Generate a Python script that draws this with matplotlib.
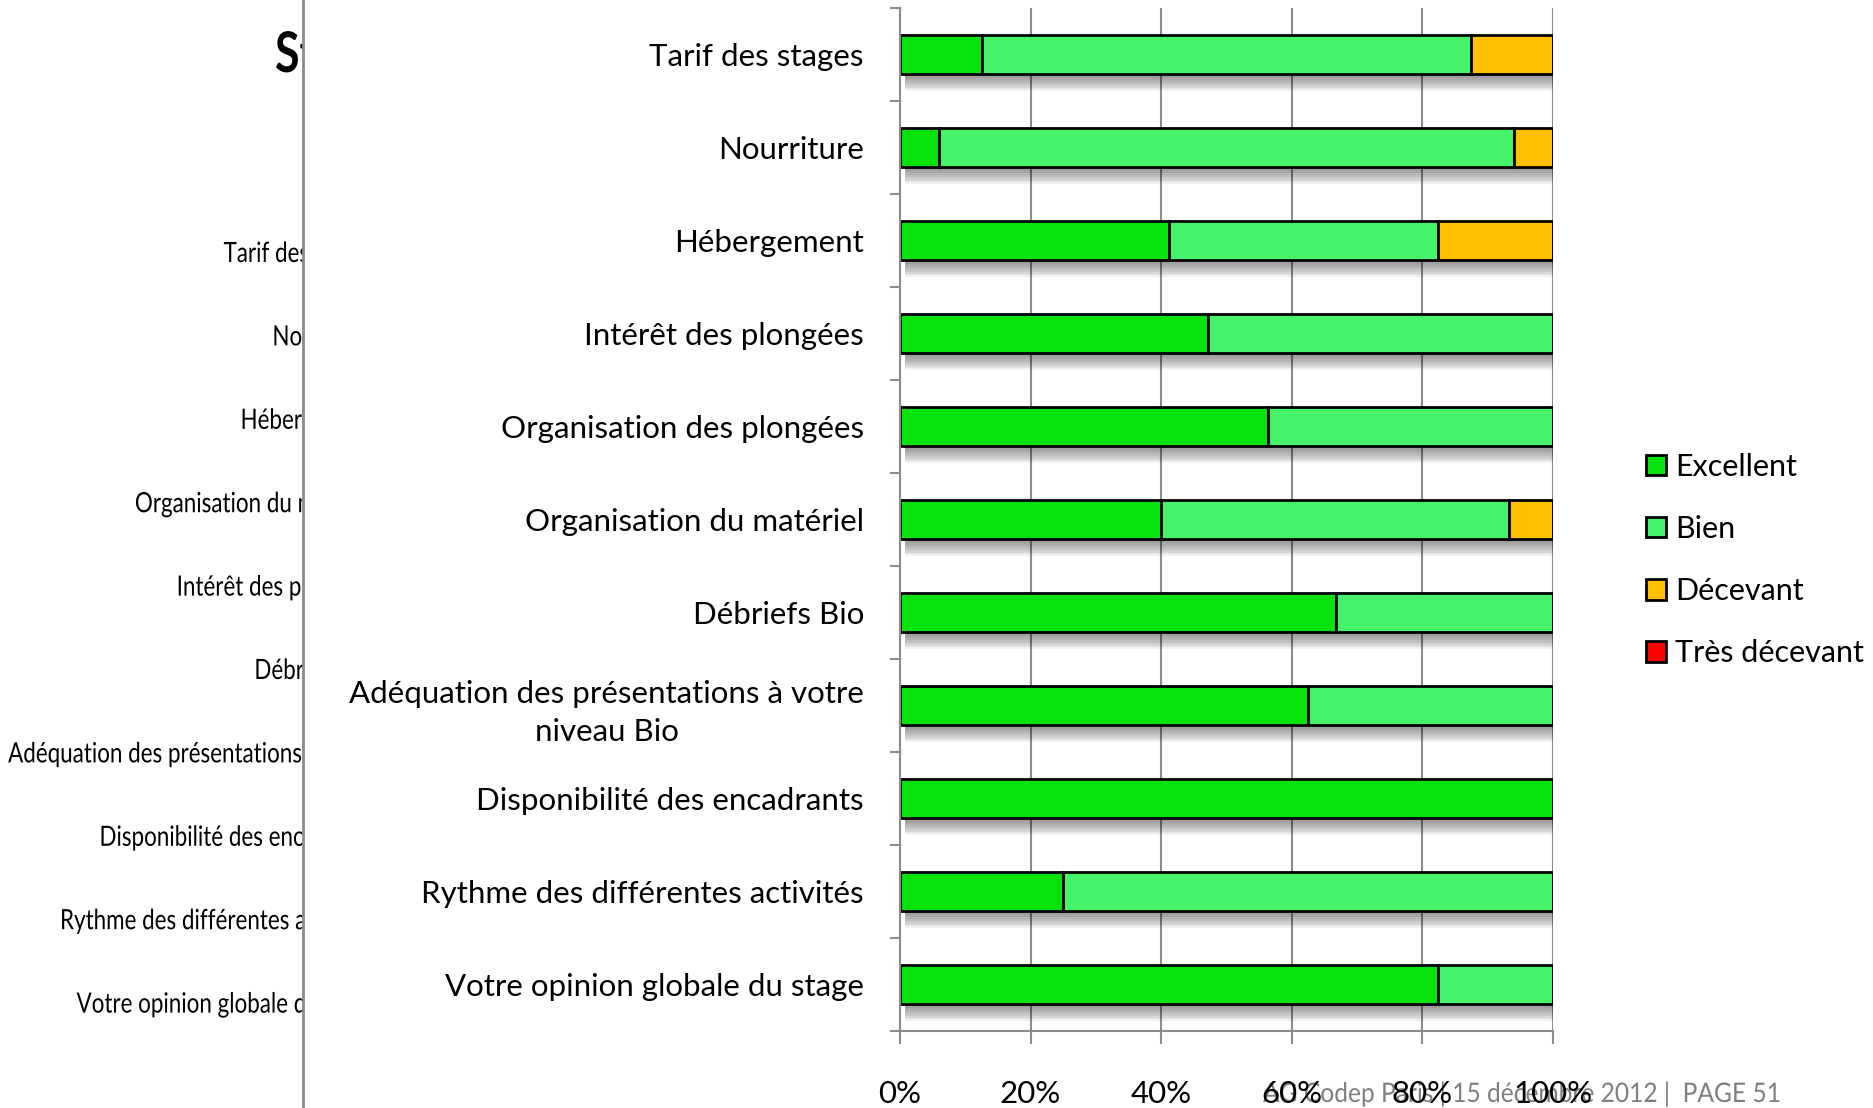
import numpy as np
import matplotlib
matplotlib.use("Agg")
import matplotlib.pyplot as plt
from matplotlib.patches import Rectangle, PathPatch
from matplotlib.lines import Line2D
from matplotlib.textpath import TextPath
from matplotlib.font_manager import FontProperties
from matplotlib.transforms import Affine2D

plt.rcParams['font.family'] = ['Lato', 'DejaVu Sans']

# main chart data (percent of answers)
categories = ["Tarif des stages", "Nourriture", "Hébergement", "Intérêt des plongées",
              "Organisation des plongées", "Organisation du matériel", "Débriefs Bio",
              "Adéquation des présentations à votre\nniveau Bio",
              "Disponibilité des encadrants", "Rythme des différentes activités",
              "Votre opinion globale du stage"]
excellent = [12.5, 5.9, 41.2, 47.1, 56.3, 40.0, 66.7, 62.5, 100.0, 25.0, 82.4]
bien = [75.0, 88.2, 41.2, 52.9, 43.7, 53.3, 33.3, 37.5, 0.0, 75.0, 17.6]
decevant = [12.5, 5.9, 17.6, 0.0, 0.0, 6.7, 0.0, 0.0, 0.0, 0.0, 0.0]
tres_decevant = [0.0] * 11
series_names = ["Excellent", "Bien", "Décevant", "Très décevant"]
series_colors = ["#05E30B", "#45F26A", "#FFC000", "#FF0000"]
xticks = [0, 20, 40, 60, 80, 100]

# labels of the slide behind, cut off by the chart
back_title = "Stages"
back_labels = ["Tarif des stages", "Nourriture", "Hébergement", "Organisation du matériel",
               "Intérêt des plongées", "Débriefs Bio", "Adéquation des présentations à votre",
               "Disponibilité des encadrants", "Rythme des différentes activités",
               "Votre opinion globale du stage"]
footer = "AG Codep Paris | 15 décembre 2012 |  PAGE 51"

W, H = 1874, 1108
fig = plt.figure(figsize=(W / 100, H / 100), dpi=100)

# background layer in pixel units (y up)
bg = fig.add_axes([0, 0, 1, 1])
bg.set_xlim(0, W)
bg.set_ylim(0, H)
bg.axis('off')
bg.set_zorder(0)


def squeezed(ax, x, y_top, s, size, sx, ha='left', weight='normal', color='black'):
    # narrow text drawn as a path, y_top = baseline measured from the top
    tp = TextPath((0, 0), s, size=size, prop=FontProperties(family='Lato', weight=weight))
    w = tp.get_extents().x1 * sx
    x0 = x - w if ha == 'right' else x
    tr = Affine2D().scale(sx, 1).translate(x0, H - y_top) + ax.transData
    ax.add_patch(PathPatch(tp, transform=tr, facecolor=color, edgecolor='none'))


squeezed(bg, 275, 72, back_title, 56, 0.8, weight='bold')
for i, lab in enumerate(back_labels):
    squeezed(bg, 376, 262 + i * 83.4, lab, 28, 0.8, ha='right')

# white chart area on top of it
fig.patches.append(Rectangle((303 / W, 0), 1 - 303 / W, 1, transform=fig.transFigure,
                             facecolor='white', edgecolor='none', zorder=2))
fig.lines.append(Line2D([303 / W, 303 / W], [0, 1], transform=fig.transFigure,
                        color='#8C8C8C', lw=2, zorder=2.5))

# footer of the slide, under the tick labels like in the source
fg = fig.add_axes([0, 0, 1, 1])
fg.set_xlim(0, W)
fg.set_ylim(0, H)
fg.axis('off')
fg.set_zorder(2.8)
fg.patch.set_alpha(0)
squeezed(fg, 1263, 1102, footer, 27, 0.91, color='#7F7F7F')

ax = fig.add_axes([900 / W, 1 - 1031 / H, (1553 - 900) / W, (1031 - 8) / H])
ax.set_zorder(3)
ax.patch.set_alpha(0)

y = np.arange(len(categories))
h = 0.41
totals = np.array(excellent) + np.array(bien) + np.array(decevant) + np.array(tres_decevant)

# soft shadow under the bars
for k in range(8):
    ax.barh(y + 0.05 + k * 0.02, totals, left=0.8, height=h, color='black', alpha=0.055,
            edgecolor='none', zorder=1)

left = np.zeros(len(categories))
handles = []
for vals, name, col in zip([excellent, bien, decevant, tres_decevant], series_names, series_colors):
    b = ax.barh(y, vals, left=left, height=h, color=col, edgecolor='black', linewidth=2,
                label=name, zorder=2)
    handles.append(b)
    left = left + np.array(vals)

ax.set_xlim(0, 100)
ax.set_ylim(len(categories) - 0.5, -0.5)

ax.set_xticks(xticks)
ax.set_xticklabels([f"{t}%" for t in xticks])
ax.set_yticks(y)
ax.set_yticklabels(categories)
for t in ax.get_yticklabels():
    t.set_multialignment('center')
    t.set_linespacing(1.45)
ax.set_yticks(np.arange(-0.5, len(categories)), minor=True)

ax.tick_params(axis='y', which='major', length=0, pad=26, labelsize=22.5)
ax.tick_params(axis='y', which='minor', length=7, width=1.5, color='#8C8C8C', direction='out')
ax.tick_params(axis='x', length=9, width=1.5, color='#8C8C8C', direction='out', pad=26, labelsize=22.5)

ax.grid(axis='x', color='#8C8C8C', linewidth=1.5, zorder=0)
ax.set_axisbelow(True)
for s in ['top', 'right']:
    ax.spines[s].set_visible(False)
for s in ['left', 'bottom']:
    ax.spines[s].set_color('#8C8C8C')
    ax.spines[s].set_linewidth(1.5)

fig.legend(handles=handles, labels=series_names, loc='center left',
           bbox_to_anchor=(1646 / W, 1 - 560 / H), frameon=False, fontsize=22,
           handlelength=0.65, handleheight=0.65, handletextpad=0.3, labelspacing=1.12,
           borderpad=0, borderaxespad=0)

fig.savefig("out.png", dpi=100)
